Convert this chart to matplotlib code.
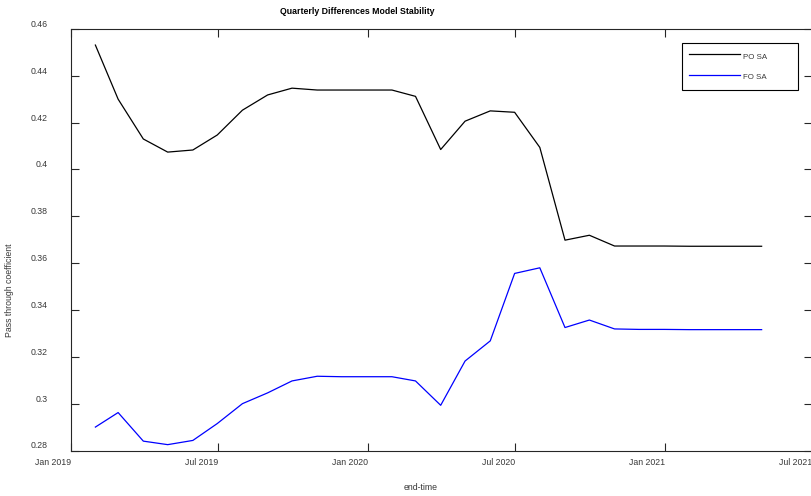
import matplotlib
matplotlib.use("Agg")
import matplotlib.pyplot as plt
from matplotlib.ticker import FuncFormatter
import pandas as pd

# ── Data ──────────────────────────────────────────────────────────────────────
end_dates = pd.date_range("2019-01-31", periods=28, freq="ME")

po_sa = [0.4531, 0.4300, 0.4130, 0.4074, 0.4083, 0.4147, 0.4253, 0.4318,
         0.4347, 0.4339, 0.4339, 0.4339, 0.4339, 0.4312, 0.4085, 0.4206,
         0.4250, 0.4244, 0.4094, 0.3698, 0.3719, 0.3673, 0.3673, 0.3673,
         0.3672, 0.3672, 0.3672, 0.3672]

fo_sa = [0.2900, 0.2962, 0.2840, 0.2825, 0.2843, 0.2915, 0.3000, 0.3046,
         0.3097, 0.3117, 0.3115, 0.3115, 0.3115, 0.3097, 0.2993, 0.3182,
         0.3268, 0.3556, 0.3580, 0.3325, 0.3357, 0.3319, 0.3317, 0.3317,
         0.3316, 0.3316, 0.3316, 0.3316]

series_labels = ["PO SA", "FO SA"]
x_ticks = pd.to_datetime(["2019-01-01", "2019-07-01", "2020-01-01",
                          "2020-07-01", "2021-01-01", "2021-07-01"])
x_tick_labels = ["Jan 2019", "Jul 2019", "Jan 2020", "Jul 2020", "Jan 2021", "Jul 2021"]
y_ticks = [0.28, 0.30, 0.32, 0.34, 0.36, 0.38, 0.40, 0.42, 0.44, 0.46]

# ── Style ─────────────────────────────────────────────────────────────────────
plt.rcParams["font.family"] = ["Liberation Sans", "DejaVu Sans"]
FS = 6.3
AX_COL = "#262626"
TXT_COL = "#383838"

W, H = 811, 496
fig = plt.figure(figsize=(W / 100, H / 100), dpi=100)
ax = fig.add_axes([71 / W, 1 - 450.5 / H, 741 / W, 421.6 / H])

ax.plot(end_dates, po_sa, color="black", lw=0.9, label=series_labels[0])
ax.plot(end_dates, fo_sa, color="blue", lw=0.9, label=series_labels[1])

ax.set_xlim(x_ticks[0], x_ticks[-1])
ax.set_ylim(0.28, 0.46)
ax.set_xticks(x_ticks)
ax.set_xticklabels(x_tick_labels)
ax.set_yticks(y_ticks)
ax.yaxis.set_major_formatter(FuncFormatter(lambda v, _: f"{v:g}"))

for sp in ax.spines.values():
    sp.set_color(AX_COL)
    sp.set_linewidth(0.8)
ax.tick_params(direction="in", length=5.8, width=0.8, color=AX_COL,
               labelsize=FS, labelcolor=TXT_COL, top=True, right=True)
ax.tick_params(axis="x", pad=5.5)
ax.tick_params(axis="y", pad=17)
for lbl in ax.get_xticklabels():
    lbl.set_ha("right")
for lbl in ax.get_yticklabels():
    lbl.set_va("bottom")

# titles / labels placed like the exported figure
fig.text(357 / W, 1 - 11 / H, "Quarterly Differences Model Stability",
         ha="center", va="center", fontsize=FS, fontweight="bold", color="black")
fig.text(421 / W, 1 - 488 / H, "end-time", ha="center", va="center",
         fontsize=FS, color=TXT_COL)
fig.text(10 / W, 1 - 290 / H, "Pass through coefficient", ha="center",
         va="center", rotation=90, fontsize=FS, color=TXT_COL)

leg = ax.legend(loc="upper left", bbox_to_anchor=(0.8245, 0.9666, 0.1565, 0.0),
                mode="expand", fontsize=5.7, handlelength=6.4, handletextpad=0.45,
                handleheight=2.0, labelspacing=1.05, borderpad=0.9,
                borderaxespad=0.0, fancybox=False, framealpha=1.0,
                edgecolor="black")
leg.get_frame().set_linewidth(0.8)
for t in leg.get_texts():
    t.set_color(TXT_COL)

fig.savefig("out.png", dpi=100)
